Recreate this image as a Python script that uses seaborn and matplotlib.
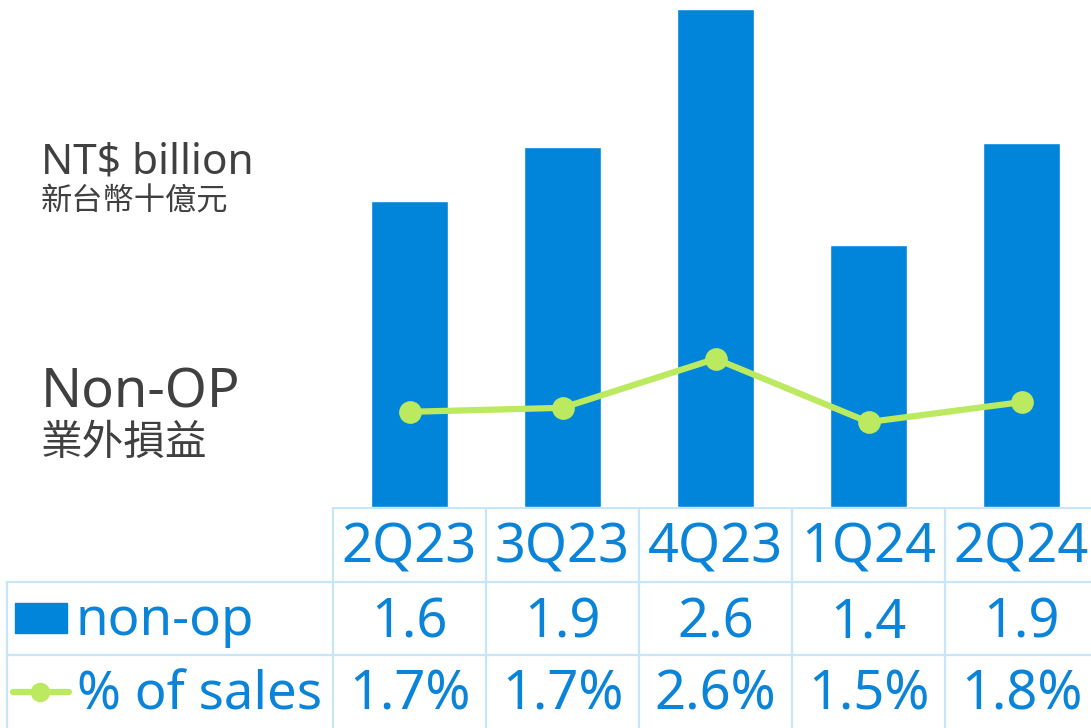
import matplotlib
matplotlib.use("Agg")
import matplotlib.pyplot as plt
import seaborn as sns
import pandas as pd
from matplotlib.patches import Rectangle

# 資料
quarters = ["2Q23", "3Q23", "4Q23", "1Q24", "2Q24"]
non_op = [1.60, 1.88, 2.60, 1.37, 1.90]
pct_sales = [1.67, 1.74, 2.60, 1.49, 1.84]
non_op_labels = ["1.6", "1.9", "2.6", "1.4", "1.9"]
pct_labels = ["1.7%", "1.7%", "2.6%", "1.5%", "1.8%"]

sns.set_style("white")
plt.rcParams['font.family'] = ['Noto Sans', 'Noto Sans CJK TC', 'DejaVu Sans']

BLUE = "#0085DA"
TXT_BLUE = "#0A84D8"
GREEN = "#BBE95F"
GRID = "#C8E6FA"
GREY = "#404040"

W, H = 1091, 728
fig = plt.figure(figsize=(W / 100, H / 100), dpi=100)

# 圖表區 (x 從 333 px 起, 每格 153 px; y: 0~507 px)
x0, base = 333, 507
unit = 153
ax = fig.add_axes([x0 / W, (H - base) / H, unit * len(quarters) / W, base / H])
df = pd.DataFrame({"q": quarters, "v": non_op, "p": pct_sales})
sns.barplot(data=df, x="q", y="v", color=BLUE, width=0.5, saturation=1, ax=ax)
ax.set_ylim(0, base / 191.5)
ax.set_xlim(-0.5, len(quarters) - 0.5)

ax2 = ax.twinx()
sns.pointplot(data=df, x="q", y="p", color=GREEN, markers="o", markersize=13,
              linewidth=4.5, ax=ax2)
ax2.set_ylim(0, base / 57)
ax2.set_xlim(-0.5, len(quarters) - 0.5)

for a in (ax, ax2):
    a.set_axis_off()

# 左側標題
fig.text(41 / W, 1 - 174 / H, "NT$ billion", fontsize=30.5, color=GREY, va="baseline")
fig.text(41 / W, 1 - 202 / H, "新台幣十億元", fontsize=22.5, color=GREY, va="center",
         family=['Noto Sans CJK TC', 'DejaVu Sans'], fontweight="light")
fig.text(41 / W, 1 - 407 / H, "Non-OP", fontsize=39, color=GREY, va="baseline")
fig.text(41 / W, 1 - 443 / H, "業外損益", fontsize=30, color=GREY, va="center",
         family=['Noto Sans CJK TC', 'DejaVu Sans'], fontweight="light")

# 表格
tb = fig.add_axes([0, 0, 1, (H - base) / H])
tb.set_xlim(0, W)
tb.set_ylim(H, base)
tb.set_axis_off()

def cx(i):
    return x0 + (i + 0.5) * unit

lw = 1.6
tb.plot([x0, W], [base + 1, base + 1], color=GRID, lw=lw)
tb.plot([7, W], [582, 582], color=GRID, lw=lw)
tb.plot([7, W], [655, 655], color=GRID, lw=lw)
tb.plot([7, 7], [582, H], color=GRID, lw=lw)
for i in range(len(quarters)):
    xb = x0 + i * unit
    tb.plot([xb, xb], [base, H], color=GRID, lw=lw)

for i, q in enumerate(quarters):
    tb.text(cx(i), 562, q, fontsize=39, color=TXT_BLUE, ha="center", va="baseline")
    tb.text(cx(i), 637, non_op_labels[i], fontsize=39, color=TXT_BLUE, ha="center", va="baseline")
    tb.text(cx(i), 710, pct_labels[i], fontsize=39, color=TXT_BLUE, ha="center", va="baseline")

tb.add_patch(Rectangle((15, 603), 52, 30, color=BLUE))
tb.text(75, 635, "non-op", fontsize=38, color=TXT_BLUE, va="baseline")
tb.plot([13, 69], [692, 692], color=GREEN, lw=4.5, solid_capstyle="round")
tb.plot([40], [692], "o", color=GREEN, markersize=13)
tb.text(77, 710, "% of sales", fontsize=38, color=TXT_BLUE, va="baseline")

fig.savefig("out.png", dpi=100)
